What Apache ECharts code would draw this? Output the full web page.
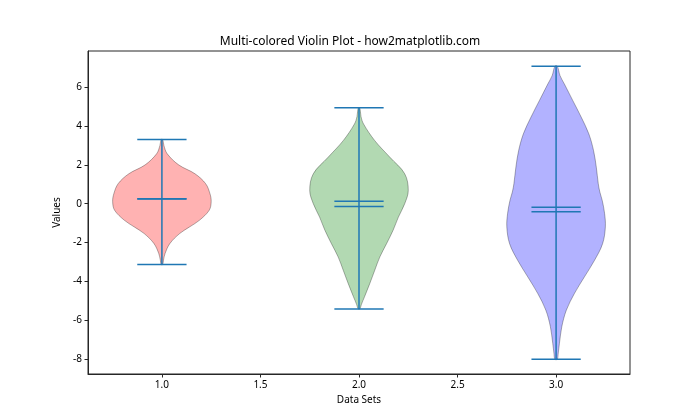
<!DOCTYPE html>
<html>
<head>
<meta charset="utf-8">
<script src="https://cdn.jsdelivr.net/npm/echarts@6.0.0/dist/echarts.min.js"></script>
<style>
  html, body { margin: 0; padding: 0; background: #fff; }
  #chart { width: 700px; height: 420px; }
</style>
</head>
<body>
<div id="chart"></div>
<script>
// violin positions and summary stats
const positions = [1, 2, 3];
const mins = [-3.14, -5.43, -8.02];
const maxs = [3.31, 4.95, 7.09];
const means = [0.26, 0.12, -0.19];
const medians = [0.24, -0.15, -0.41];
const fills = ["rgba(255,0,0,0.3)", "rgba(0,128,0,0.3)", "rgba(0,0,255,0.3)"];

// density profiles: value -> half width (x units, max 0.25)
const v1Values = [3.31, 3.0, 2.57, 2.0, 1.54, 1.03, 0.51, 0.1, -0.34, -0.86, -1.2, -1.54, -2.06, -2.57, -2.91, -3.14];
const v1Widths = [0.004, 0.01, 0.027, 0.085, 0.168, 0.222, 0.244, 0.25, 0.24, 0.19, 0.14, 0.09, 0.04, 0.016, 0.008, 0.004];

const v2Values = [4.95, 4.5, 4.11, 3.25, 2.4, 1.54, 0.68, 0.0, -0.69, -1.37, -2.06, -2.74, -3.43, -4.11, -4.8, -5.2, -5.43];
const v2Widths = [0.004, 0.01, 0.023, 0.08, 0.156, 0.232, 0.25, 0.232, 0.2, 0.173, 0.14, 0.106, 0.08, 0.055, 0.028, 0.012, 0.004];

const v3Values = [7.09, 6.6, 6.17, 5.31, 4.45, 3.6, 2.74, 1.88, 1.03, 0.6, 0.17, -0.5, -1.2, -2.06, -2.92, -3.77, -4.63, -5.49, -6.34, -7.2, -7.7, -8.02];
const v3Widths = [0.006, 0.02, 0.042, 0.085, 0.128, 0.166, 0.19, 0.204, 0.214, 0.222, 0.234, 0.246, 0.25, 0.236, 0.195, 0.144, 0.093, 0.052, 0.029, 0.017, 0.011, 0.006];

const profiles = [
  [v1Values, v1Widths],
  [v2Values, v2Widths],
  [v3Values, v3Widths],
];

const xTicks = [1.0, 1.5, 2.0, 2.5, 3.0];
const yTicks = [-8, -6, -4, -2, 0, 2, 4, 6];

const lineColor = "#1f77b4";
const axisColor = "#262626";

const chart = echarts.init(document.getElementById("chart"), null, { renderer: "canvas" });

function renderViolin(params, api) {
  const i = params.dataIndex;
  const pos = positions[i];
  const [vals, widths] = profiles[i];
  const right = vals.map((v, k) => api.coord([pos + widths[k], v]));
  const left = vals.map((v, k) => api.coord([pos - widths[k], v])).reverse();
  const pts = right.concat(left);

  const line = (x1, y1, x2, y2) => {
    const a = api.coord([x1, y1]);
    const b = api.coord([x2, y2]);
    return {
      type: "line",
      shape: { x1: a[0], y1: a[1], x2: b[0], y2: b[1] },
      style: { stroke: lineColor, lineWidth: 1.5 },
    };
  };

  return {
    type: "group",
    children: [
      {
        type: "polygon",
        shape: { points: pts, smooth: 0.35 },
        style: { fill: fills[i], stroke: "rgba(0,0,0,0.3)", lineWidth: 1 },
      },
      line(pos, mins[i], pos, maxs[i]),
      line(pos - 0.125, maxs[i], pos + 0.125, maxs[i]),
      line(pos - 0.125, mins[i], pos + 0.125, mins[i]),
      line(pos - 0.125, means[i], pos + 0.125, means[i]),
      line(pos - 0.125, medians[i], pos + 0.125, medians[i]),
    ],
  };
}

const option = {
  backgroundColor: "#fff",
  animation: false,
  title: {
    text: "Multi-colored Violin Plot - how2matplotlib.com",
    left: "center",
    top: 31,
    textStyle: { fontFamily: "Noto Sans", fontSize: 12, fontWeight: "normal", color: "#000" },
  },
  grid: {
    left: 88, right: 70, top: 51, bottom: 46,
    show: true, borderColor: axisColor, borderWidth: 1,
  },
  xAxis: {
    type: "value",
    min: 0.625,
    max: 3.375,
    name: "Data Sets",
    nameLocation: "middle",
    nameGap: 20,
    nameTextStyle: { fontFamily: "Noto Sans", fontSize: 10, color: "#000" },
    axisLine: { show: true, onZero: false, lineStyle: { color: axisColor } },
    axisTick: { show: true, length: 3.5, customValues: xTicks, lineStyle: { color: axisColor } },
    axisLabel: {
      customValues: xTicks,
      formatter: v => v.toFixed(1),
      fontFamily: "Noto Sans", fontSize: 10, color: "#000", margin: 6,
    },
    splitLine: { show: false },
  },
  yAxis: {
    type: "value",
    min: -8.78,
    max: 7.87,
    name: "Values",
    nameLocation: "middle",
    nameGap: 22,
    nameRotate: 90,
    nameTextStyle: { fontFamily: "Noto Sans", fontSize: 10, color: "#000" },
    axisLine: { show: true, onZero: false, lineStyle: { color: axisColor } },
    axisTick: { show: true, length: 3.5, customValues: yTicks, lineStyle: { color: axisColor } },
    axisLabel: {
      customValues: yTicks,
      fontFamily: "Noto Sans", fontSize: 10, color: "#000", margin: 6,
    },
    splitLine: { show: false },
  },
  series: [
    {
      type: "custom",
      renderItem: renderViolin,
      data: positions.map((p, i) => [p, maxs[i], mins[i]]),
      encode: { x: 0, y: [1, 2] },
      clip: true,
      silent: true,
    },
  ],
};

chart.setOption(option);
</script>
</body>
</html>
